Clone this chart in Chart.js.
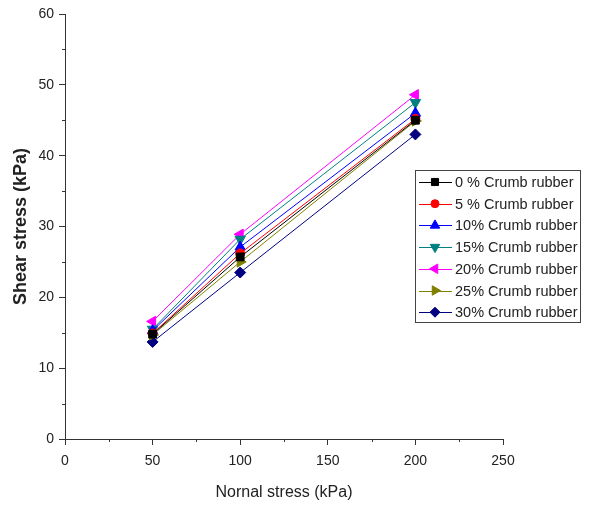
<!DOCTYPE html>
<html>
<head>
<meta charset="utf-8">
<script src="https://cdn.jsdelivr.net/npm/chart.js@4.4.0/dist/chart.umd.min.js"></script>
<style>
  html, body { margin: 0; padding: 0; background: #fff; }
  canvas { display: block; }
</style>
</head>
<body>
<canvas id="shear-chart" width="593" height="508"></canvas>
<script>
// data
const normalStress = [50, 100, 200];
const seriesNames = [
  "0 % Crumb rubber",
  "5 % Crumb rubber",
  "10% Crumb rubber",
  "15% Crumb rubber",
  "20% Crumb rubber",
  "25% Crumb rubber",
  "30% Crumb rubber",
];
const rubber0 = [14.8, 25.7, 45.0];
const rubber5 = [14.9, 26.2, 45.2];
const rubber10 = [15.3, 27.1, 46.0];
const rubber15 = [15.5, 28.2, 47.5];
const rubber20 = [16.6, 28.9, 48.6];
const rubber25 = [14.7, 25.0, 44.9];
const rubber30 = [13.7, 23.5, 43.0];
const xTicks = [0, 50, 100, 150, 200, 250];
const yTicks = [0, 10, 20, 30, 40, 50, 60];

const allSeries = [rubber0, rubber5, rubber10, rubber15, rubber20, rubber25, rubber30];
const colors = ["#000000", "#ff0000", "#0000ff", "#008080", "#ff00ff", "#808000", "#000080"];
const markers = [
  { style: "rect", rot: 0, r: 5.5 },
  { style: "circle", rot: 0, r: 4.5 },
  { style: "triangle", rot: 0, r: 6 },
  { style: "triangle", rot: 180, r: 6 },
  { style: "triangle", rot: 270, r: 6 },
  { style: "triangle", rot: 90, r: 6 },
  { style: "rectRot", rot: 0, r: 5.5 },
];

const FONT = "'Liberation Sans', Arial, sans-serif";
const AXIS = "#333333";

const datasets = allSeries.map((vals, i) => ({
  label: seriesNames[i],
  data: vals.map((v, j) => ({ x: normalStress[j], y: v })),
  borderColor: colors[i],
  backgroundColor: colors[i],
  borderWidth: 1,
  pointStyle: markers[i].style,
  rotation: markers[i].rot,
  pointRadius: markers[i].r,
  pointBorderWidth: 1,
  tension: 0,
}));

// short minor ticks between the major ones
const minorTicks = {
  id: "minorTicks",
  afterDraw(chart) {
    const { ctx, scales } = chart;
    const xs = scales.x, ys = scales.y;
    ctx.save();
    ctx.strokeStyle = AXIS;
    ctx.lineWidth = 1;
    ctx.beginPath();
    for (let v = 25; v < 250; v += 50) {
      const px = Math.round(xs.getPixelForValue(v)) + 0.5;
      ctx.moveTo(px, xs.top);
      ctx.lineTo(px, xs.top + 3);
    }
    for (let v = 5; v < 60; v += 10) {
      const py = Math.round(ys.getPixelForValue(v)) + 0.5;
      ctx.moveTo(ys.right, py);
      ctx.lineTo(ys.right - 3, py);
    }
    ctx.stroke();
    ctx.restore();
  },
};

// boxed legend inside the plot, right side
const boxLegend = {
  id: "boxLegend",
  afterDraw(chart) {
    const { ctx } = chart;
    const left = 415, top = 170, w = 165, h = 152;
    const rowY0 = 182, rowStep = 21.7;
    ctx.save();
    ctx.fillStyle = "#ffffff";
    ctx.fillRect(left, top, w, h);
    ctx.strokeStyle = "#444444";
    ctx.lineWidth = 1;
    ctx.strokeRect(left + 0.5, top + 0.5, w, h);
    ctx.font = "14.5px " + FONT;
    ctx.textBaseline = "middle";
    chart.data.datasets.forEach((ds, i) => {
      const y = rowY0 + i * rowStep;
      ctx.strokeStyle = ds.borderColor;
      ctx.fillStyle = ds.backgroundColor;
      ctx.beginPath();
      ctx.moveTo(419, Math.round(y) + 0.5);
      ctx.lineTo(452, Math.round(y) + 0.5);
      ctx.stroke();
      if (Chart.helpers && Chart.helpers.drawPoint) {
        Chart.helpers.drawPoint(ctx, {
          pointStyle: ds.pointStyle,
          rotation: ds.rotation,
          radius: ds.pointRadius - 0.5,
          borderWidth: 1,
        }, 435, y);
      }
      ctx.fillStyle = "#222222";
      ctx.fillText(ds.label, 455, y + 1);
    });
    ctx.restore();
  },
};

new Chart(document.getElementById("shear-chart"), {
  type: "line",
  data: { datasets },
  options: {
    responsive: false,
    animation: false,
    events: [],
    layout: { padding: { top: 14, right: 90, left: 0, bottom: 0 } },
    plugins: { legend: { display: false }, tooltip: { enabled: false } },
    scales: {
      x: {
        type: "linear",
        min: 0,
        max: 250,
        afterBuildTicks: (s) => { s.ticks = xTicks.map((v) => ({ value: v })); },
        afterFit: (s) => { s.height = 69; },
        grid: { drawOnChartArea: false, drawTicks: true, tickLength: 6, tickColor: AXIS },
        border: { display: true, color: AXIS, width: 1 },
        ticks: { color: "#222", padding: 8, maxRotation: 0, font: { family: FONT, size: 14 } },
        title: {
          display: true,
          text: "Nornal stress (kPa)",
          color: "#222",
          padding: { top: 0, bottom: 6 },
          font: { family: FONT, size: 16 },
        },
      },
      y: {
        type: "linear",
        min: 0,
        max: 60,
        afterBuildTicks: (s) => { s.ticks = yTicks.map((v) => ({ value: v })); },
        afterFit: (s) => { s.width = 65; },
        grid: { drawOnChartArea: false, drawTicks: true, tickLength: 6, tickColor: AXIS },
        border: { display: true, color: AXIS, width: 1 },
        ticks: { color: "#222", padding: 5, font: { family: FONT, size: 14 } },
        title: {
          display: true,
          text: "Shear stress (kPa)",
          color: "#222",
          padding: { top: 10, bottom: 0 },
          font: { family: FONT, size: 18, weight: "bold" },
        },
      },
    },
  },
  plugins: [minorTicks, boxLegend],
});
</script>
</body>
</html>
